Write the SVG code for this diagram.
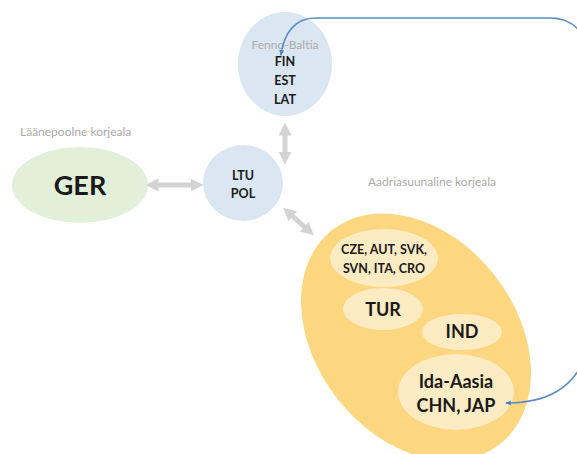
<svg xmlns="http://www.w3.org/2000/svg" width="577" height="454" viewBox="0 0 577 454">
<defs>
<style>
.lbl{font-family:"Lato","Open Sans","Liberation Sans",sans-serif;fill:#ababab;font-size:12px;}
.t{font-family:"Lato","Open Sans","Liberation Sans",sans-serif;font-weight:bold;fill:#1a1a1a;text-anchor:middle;}
.blue{fill:#dbe6f3;}
.inner{fill:#fcebc3;}
.gray{stroke:#d3d3d3;stroke-width:5;fill:none;}
</style>
<marker id="ga" viewBox="0 0 10 10" refX="5" refY="5" markerWidth="2.6" markerHeight="2.6" orient="auto-start-reverse" markerUnits="strokeWidth">
<path d="M0,0 L10,5 L0,10 z" fill="#d3d3d3"/>
</marker>
<marker id="ba" viewBox="0 0 10 10" refX="8" refY="5" markerWidth="6" markerHeight="6" orient="auto-start-reverse" markerUnits="userSpaceOnUse">
<path d="M0,1 L10,5 L0,9 z" fill="#4f81bd"/>
</marker>
</defs>
<rect width="577" height="454" fill="#ffffff"/>

<g id="ger">
<ellipse cx="80" cy="185" rx="68" ry="38" fill="#e2efd9"/>
<text class="t" x="80" y="195" font-size="27">GER</text>
</g>
<text class="lbl" x="20" y="136">Läänepoolne korjeala</text>

<g id="ltu-pol">
<ellipse class="blue" cx="243" cy="183" rx="40" ry="38"/>
<text class="t" x="243" y="180" font-size="12.5">LTU</text>
<text class="t" x="243" y="198" font-size="12.5">POL</text>
</g>

<g id="fenno-baltia">
<ellipse class="blue" cx="285" cy="64" rx="47" ry="52"/>
<text class="lbl" x="285" y="49" text-anchor="middle" font-size="12" fill="#c5ccd6">Fenno-Baltia</text>
<text class="t" x="285" y="66" font-size="12.5">FIN</text>
<text class="t" x="285" y="85" font-size="12.5">EST</text>
<text class="t" x="285" y="104" font-size="12.5">LAT</text>
</g>

<text class="lbl" x="368" y="186">Aadriasuunaline korjeala</text>

<g id="aadria">
<ellipse cx="416" cy="337" rx="100" ry="136" transform="rotate(-38 416 337)" fill="#fcd780"/>
<g id="cze">
<ellipse class="inner" cx="384" cy="258" rx="54" ry="29"/>
<text class="t" x="384" y="254" font-size="12.5">CZE, AUT, SVK,</text>
<text class="t" x="384" y="273" font-size="12.5">SVN, ITA, CRO</text>
</g>
<g id="tur">
<ellipse class="inner" cx="383" cy="309" rx="40" ry="21"/>
<text class="t" x="383" y="316" font-size="18">TUR</text>
</g>
<g id="ind">
<ellipse class="inner" cx="462" cy="332" rx="40" ry="18"/>
<text class="t" x="462" y="338" font-size="18">IND</text>
</g>
<g id="ida-aasia">
<ellipse class="inner" cx="456" cy="392" rx="58" ry="38"/>
<text class="t" x="456" y="388" font-size="18">Ida-Aasia</text>
<text class="t" x="456" y="412" font-size="18">CHN, JAP</text>
</g>
</g>

<g id="connectors">
<line class="gray" x1="152" y1="185" x2="197" y2="185" marker-start="url(#ga)" marker-end="url(#ga)"/>
<line class="gray" x1="285" y1="129" x2="285" y2="158" marker-start="url(#ga)" marker-end="url(#ga)"/>
<line class="gray" x1="288" y1="212" x2="309" y2="231" marker-start="url(#ga)" marker-end="url(#ga)"/>
<path d="M 506 403 C 545 403, 575 390, 588 350 L 588 60 C 588 32, 572 18, 550 18 L 315 18 C 296 18, 284 32, 281 55" fill="none" stroke="#5b8cc4" stroke-width="1.5" marker-start="url(#ba)" marker-end="url(#ba)"/>
</g>
</svg>
